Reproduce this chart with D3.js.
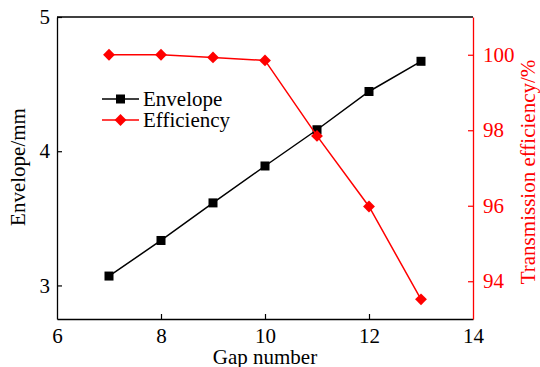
<!DOCTYPE html>
<html>
<head>
<meta charset="utf-8">
<script src="https://cdn.jsdelivr.net/npm/d3@7"></script>
<style>
  html, body { margin: 0; padding: 0; background: #fff; }
</style>
</head>
<body>
<svg id="chart" width="540" height="367"></svg>
<script>
// Gap number vs. envelope size and transmission efficiency
const gapNumbers = [7, 8, 9, 10, 11, 12, 13];
const envelope = [3.07, 3.335, 3.615, 3.89, 4.16, 4.445, 4.67];
const efficiency = [100.0, 100.0, 99.93, 99.85, 97.85, 95.98, 93.52];

const xTicks = [6, 8, 10, 12, 14];
const leftTicks = [3, 4, 5];
const rightTicks = [94, 96, 98, 100];

const FONT = '"Liberation Serif"';
const svg = d3.select("#chart");
const margin = { left: 57, right: 67, top: 17, bottom: 48 };
const W = 540, H = 367;
const x0 = margin.left, x1 = W - margin.right;
const y0 = H - margin.bottom, y1 = margin.top;

const x = d3.scaleLinear().domain([6, 14]).range([x0, x1]);
const yL = d3.scaleLinear().domain([2.75, 5]).range([y0, y1]);
const yR = d3.scaleLinear().domain([93, 101]).range([y0, y1]);

const red = "#ff0000";
const fs = 21;
const fmt = d3.format("d");

// top frame line
svg.append("line").attr("x1", x0).attr("x2", x1).attr("y1", y1).attr("y2", y1)
  .attr("stroke", "#000").attr("stroke-width", 1.3);

// bottom axis (ticks pointing inward)
const gx = svg.append("g").attr("transform", `translate(0,${y0})`)
  .call(d3.axisBottom(x).tickValues(xTicks).tickFormat(fmt).tickSizeInner(-5).tickSizeOuter(0).tickPadding(9));
gx.select(".domain").attr("stroke", "#000").attr("stroke-width", 1.5);
gx.selectAll(".tick line").attr("stroke", "#000").attr("stroke-width", 1.2);
gx.selectAll(".tick text").style("font-family", FONT).attr("font-size", fs).attr("fill", "#000");
gx.selectAll(".tick").filter(d => d === 6 || d === 14).select("line").remove();

// left axis
const gl = svg.append("g").attr("transform", `translate(${x0},0)`)
  .call(d3.axisLeft(yL).tickValues(leftTicks).tickFormat(fmt).tickSizeInner(-5).tickSizeOuter(0).tickPadding(7));
gl.select(".domain").attr("stroke", "#000").attr("stroke-width", 1.3);
gl.selectAll(".tick line").attr("stroke", "#000").attr("stroke-width", 1.2);
gl.selectAll(".tick text").style("font-family", FONT).attr("font-size", fs).attr("fill", "#000");

// right axis (red)
const gr = svg.append("g").attr("transform", `translate(${x1},0)`)
  .call(d3.axisRight(yR).tickValues(rightTicks).tickFormat(fmt).tickSizeInner(-5).tickSizeOuter(0).tickPadding(10));
gr.select(".domain").attr("stroke", red).attr("stroke-width", 1.3);
gr.selectAll(".tick line").attr("stroke", red).attr("stroke-width", 1.2);
gr.selectAll(".tick text").style("font-family", FONT).attr("font-size", fs).attr("fill", red);

// axis titles
svg.append("text").attr("x", (x0 + x1) / 2).attr("y", 364).attr("text-anchor", "middle")
  .style("font-family", FONT).attr("font-size", fs).attr("fill", "#000").text("Gap number");
svg.append("text").attr("transform", `translate(25,167) rotate(-90)`)
  .attr("text-anchor", "middle").style("font-family", FONT).attr("font-size", fs)
  .attr("fill", "#000").text("Envelope/mm");
svg.append("text").attr("transform", `translate(535,172) rotate(-90)`)
  .attr("text-anchor", "middle").style("font-family", FONT).attr("font-size", fs)
  .attr("fill", red).text("Transmission efficiency/%");

// envelope series
const envData = gapNumbers.map((g, i) => [g, envelope[i]]);
svg.append("path").datum(envData)
  .attr("fill", "none").attr("stroke", "#000").attr("stroke-width", 1.5)
  .attr("d", d3.line().x(d => x(d[0])).y(d => yL(d[1])));
const sq = 9;
svg.selectAll("rect.env").data(envData).join("rect").attr("class", "env")
  .attr("x", d => x(d[0]) - sq / 2).attr("y", d => yL(d[1]) - sq / 2)
  .attr("width", sq).attr("height", sq).attr("fill", "#000");

// efficiency series
const effData = gapNumbers.map((g, i) => [g, efficiency[i]]);
svg.append("path").datum(effData)
  .attr("fill", "none").attr("stroke", red).attr("stroke-width", 1.5)
  .attr("d", d3.line().x(d => x(d[0])).y(d => yR(d[1])));
const diamondPath = d3.symbol().type(d3.symbolSquare).size(70);
svg.selectAll("path.eff").data(effData).join("path").attr("class", "eff")
  .attr("d", diamondPath)
  .attr("transform", d => `translate(${x(d[0])},${yR(d[1])}) rotate(45)`)
  .attr("fill", red);

// legend
const legend = [
  { label: "Envelope", color: "#000", shape: "square", y: 99 },
  { label: "Efficiency", color: red, shape: "diamond", y: 120 }
];
legend.forEach(l => {
  svg.append("line").attr("x1", 102).attr("x2", 139).attr("y1", l.y).attr("y2", l.y)
    .attr("stroke", l.color).attr("stroke-width", 1.5);
  if (l.shape === "square") {
    svg.append("rect").attr("x", 120.5 - sq / 2).attr("y", l.y - sq / 2)
      .attr("width", sq).attr("height", sq).attr("fill", l.color);
  } else {
    svg.append("path").attr("d", diamondPath)
      .attr("transform", `translate(120.5,${l.y}) rotate(45)`).attr("fill", l.color);
  }
  svg.append("text").attr("x", 143).attr("y", l.y + 7).style("font-family", FONT)
    .attr("font-size", fs).attr("fill", "#000").text(l.label);
});
</script>
</body>
</html>
